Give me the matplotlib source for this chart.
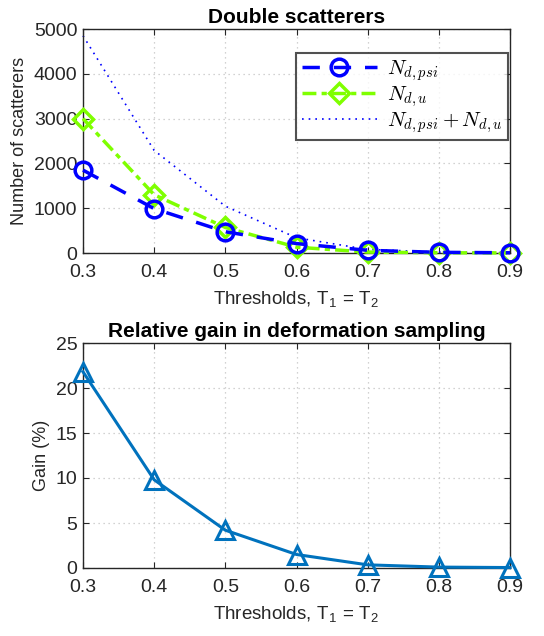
import matplotlib
matplotlib.use("Agg")
import matplotlib.pyplot as plt
import numpy as np

plt.rcParams['font.family'] = ['Liberation Sans', 'DejaVu Sans']
plt.rcParams['mathtext.fontset'] = 'cm'

thresholds = [0.3, 0.4, 0.5, 0.6, 0.7, 0.8, 0.9]
n_psi = [1850, 990, 475, 210, 60, 15, 5]
n_u = [3000, 1300, 570, 130, 20, 5, 2]
n_total = [4850, 2290, 1045, 340, 80, 20, 7]
gain = [21.8, 9.8, 4.2, 1.5, 0.35, 0.1, 0.05]

xticks = [0.3, 0.4, 0.5, 0.6, 0.7, 0.8, 0.9]
grey = '#262626'

fig = plt.figure(figsize=(5.44, 6.36), dpi=100)
ax1 = fig.add_axes([83/544, 1 - 253/636, 427/544, 224/636])
ax2 = fig.add_axes([83/544, 1 - 568/636, 427/544, 225/636])


def style(ax):
    ax.set_xlim(0.3, 0.9)
    ax.set_xticks(xticks)
    ax.set_xticklabels([str(t) for t in xticks])
    ax.tick_params(direction='in', top=True, right=True, labelsize=14,
                   colors=grey, length=4, width=0.8)
    ax.tick_params(axis='x', pad=8)
    ax.tick_params(axis='y', pad=4)
    ax.grid(True, linestyle=(0, (1, 3)), color='#c4c4c4', linewidth=0.9)
    for s in ax.spines.values():
        s.set_color(grey)
        s.set_linewidth(1.0)
    ax.set_xlabel('Thresholds, T$_\\mathregular{1}$ = T$_\\mathregular{2}$',
                  fontsize=13.5, color=grey, labelpad=6)


ax1.plot(thresholds, n_psi, color='#0000ff', linestyle=(0, (5, 4)), linewidth=2.5,
         marker='o', markersize=12, markerfacecolor='none', markeredgewidth=2.5,
         label='$N_{d,psi}$', zorder=4)
ax1.plot(thresholds, n_u, color='#7fff00', linestyle=(0, (4, 1.5, 1.5, 1.5)), linewidth=2.5,
         marker='D', markersize=10, markerfacecolor='none', markeredgewidth=2.5,
         label='$N_{d,u}$', zorder=3)
ax1.plot(thresholds, n_total, color='#0000ff', linestyle=(0, (1, 3)), linewidth=1.2,
         label='$N_{d,psi}+N_{d,u}$', zorder=2)
ax1.set_ylim(0, 5000)
ax1.set_yticks(np.arange(0, 5001, 1000))
style(ax1)
ax1.set_ylabel('Number of scatterers', fontsize=13, color=grey, labelpad=4)
ax1.set_title('Double scatterers', fontsize=15, fontweight='bold', pad=4)
leg = ax1.legend(loc='upper right', bbox_to_anchor=(0.995, 0.895), borderaxespad=0,
                 fontsize=15, frameon=True, fancybox=False, edgecolor=grey,
                 handlelength=3.6, labelspacing=0.05, borderpad=0.25, handletextpad=0.5)
leg.get_frame().set_linewidth(1.5)

ax2.plot(thresholds, gain, color='#0072bd', linewidth=2.2, marker='^', markersize=13,
         markerfacecolor='none', markeredgewidth=2.2, clip_on=False, zorder=3)
ax2.set_ylim(0, 25)
ax2.set_yticks(np.arange(0, 26, 5))
style(ax2)
ax2.set_ylabel('Gain (%)', fontsize=13, color=grey, labelpad=4)
ax2.set_title('Relative gain in deformation sampling', fontsize=15, fontweight='bold', pad=4)

for line in ax1.get_lines():
    line.set_clip_on(False)

fig.savefig('out.png', dpi=100)
